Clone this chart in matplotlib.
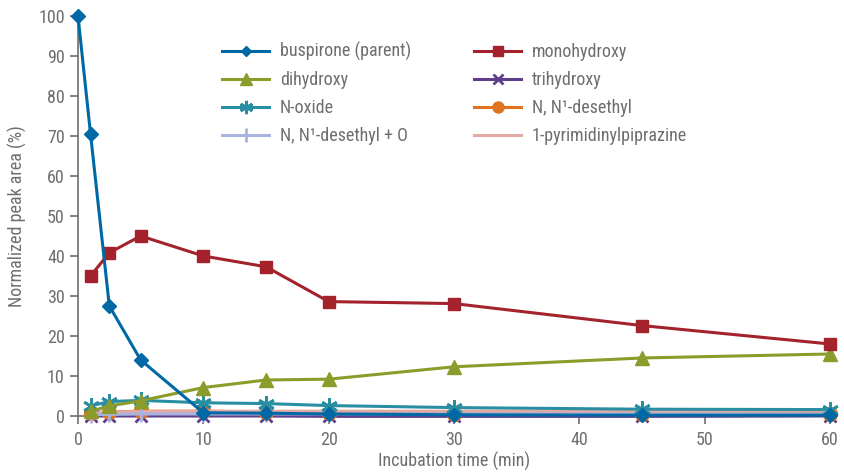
import matplotlib
matplotlib.use("Agg")
import matplotlib.pyplot as plt

plt.rcParams['font.family'] = ['Roboto Condensed', 'Liberation Sans Narrow', 'Roboto', 'DejaVu Sans']

# time points (min)
t_parent = [0, 1, 2.5, 5, 10, 15, 20, 30, 45, 60]
t = [1, 2.5, 5, 10, 15, 20, 30, 45, 60]

# normalized peak areas (%)
buspirone = [100, 70.5, 27.5, 14, 0.8, 0.7, 0.5, 0.3, 0.2, 0.2]
monohydroxy = [35, 40.8, 45, 40, 37.3, 28.6, 28.1, 22.6, 18]
dihydroxy = [1.2, 2.5, 3.8, 7.1, 9, 9.2, 12.3, 14.5, 15.5]
trihydroxy = [0, 0, 0, 0, 0, -0.1, -0.1, -0.1, 0]
n_oxide = [2.5, 3.6, 3.9, 3.3, 3.1, 2.6, 2.1, 1.7, 1.6]
desethyl = [0.8, 1.0, 1.2, 1.2, 1.0, 0.7, 0.6, 0.5, 0.6]
desethyl_o = [0.3, 0.4, 0.5, 0.5, 0.5, 0.5, 0.5, 0.5, 0.5]
pyrimidinyl = [0.9, 1.0, 1.1, 1.2, 1.2, 1.2, 1.2, 1.2, 1.3]

labels = ['buspirone (parent)', 'monohydroxy', 'dihydroxy', 'trihydroxy',
          'N-oxide', 'N, N\u00b9-desethyl', 'N, N\u00b9-desethyl + O',
          '1-pyrimidinylpiprazine']

gray = '#6d6e71'
lw = 2.2

fig = plt.figure(figsize=(8.45, 4.74), dpi=100)
ax = fig.add_axes([0.0923, 0.1224, 0.890, 0.8439])

asterisk = (6, 2, 0)
h = []
h += ax.plot(t_parent, buspirone, color='#0069a5', lw=lw, marker='D', ms=7, clip_on=False, zorder=10)
h += ax.plot(t, monohydroxy, color='#a3222b', lw=lw, marker='s', ms=9, clip_on=False, zorder=9)
h += ax.plot(t, dihydroxy, color='#8b9c2a', lw=lw, marker='^', ms=10, clip_on=False, zorder=8)
h += ax.plot(t, trihydroxy, color='#5f3f8c', lw=lw, marker='x', ms=9, mew=2, clip_on=False, zorder=3)
h += ax.plot(t, n_oxide, color='#2a8ea3', lw=lw, marker=asterisk, ms=12, mew=2, clip_on=False, zorder=7)
h += ax.plot(t, desethyl, color='#e0731f', lw=lw, marker='o', ms=10, clip_on=False, zorder=4)
h += ax.plot(t, desethyl_o, color='#a9b3e0', lw=lw, marker='|', ms=12, mew=2, clip_on=False, zorder=6)
h += ax.plot(t, pyrimidinyl, color='#e2aaa5', lw=lw, clip_on=False, zorder=5)

ax.set_xlim(0, 60)
ax.set_ylim(0, 100)
ax.set_xticks(range(0, 61, 10))
ax.set_yticks(range(0, 101, 10))
for s in ['top', 'right']:
    ax.spines[s].set_visible(False)
for s in ['left', 'bottom']:
    ax.spines[s].set_color(gray)
    ax.spines[s].set_linewidth(1.2)
ax.spines['bottom'].set_zorder(0)
ax.tick_params(colors=gray, labelsize=13, length=6, width=1.2, direction='out')
ax.tick_params(axis='x', pad=5)
ax.set_xlabel('Incubation time (min)', fontsize=13, color=gray, labelpad=2)
ax.set_ylabel('Normalized peak area (%)', fontsize=13, color=gray, labelpad=8)

# two-column legend, column-wise order
leg = ax.legend(h[0::2] + h[1::2], labels[0::2] + labels[1::2], ncol=2, frameon=False,
                loc='upper left', bbox_to_anchor=(0.17, 0.975), fontsize=13,
                handlelength=2.6, handletextpad=0.6, columnspacing=3.5,
                labelspacing=0.55, labelcolor=gray, markerscale=0.8)

fig.savefig('out.png', dpi=100)
